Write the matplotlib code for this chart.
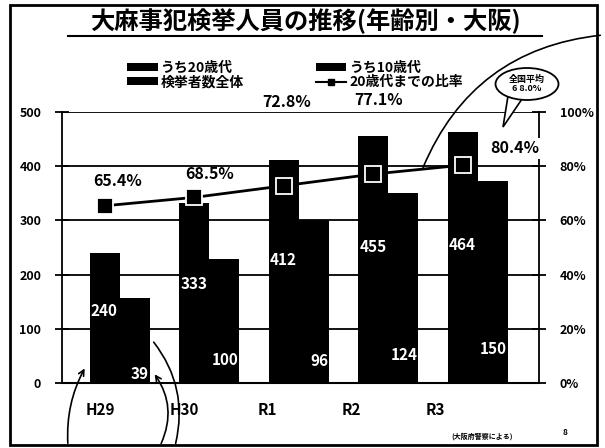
import matplotlib
matplotlib.use("Agg")
import matplotlib.pyplot as plt
import numpy as np
from matplotlib.patches import Rectangle, Ellipse, FancyArrowPatch, Polygon
from matplotlib.lines import Line2D
from matplotlib.ticker import PercentFormatter

plt.rcParams['font.family'] = ['Noto Sans CJK JP', 'DejaVu Sans']

# ---- data ----
years = ["H29", "H30", "R1", "R2", "R3"]
total = [240, 333, 412, 455, 464]          # 検挙者数全体
teens = [39, 100, 96, 124, 150]            # うち10歳代
twenties = [118, 128, 204, 227, 223]       # うち20歳代
ratio = [65.4, 68.5, 72.8, 77.1, 80.4]     # 20歳代までの比率 (%)
national_avg = "6 8.0%"
title = "大麻事犯検挙人員の推移(年齢別・大阪)"
source = "(大阪府警察による)"
page_no = "8"

W, H = 605, 448
fig = plt.figure(figsize=(W / 100, H / 100), dpi=100)
fig.patch.set_facecolor("white")

def fx(px):
    return px / W

def fy(py):
    return 1 - py / H

ax = fig.add_axes([fx(62), fy(383), fx(539) - fx(62), fy(112) - fy(383)])
ax2 = ax.twinx()

x = np.arange(len(years))
bw = 0.335

ax.bar(x, total, width=bw, color="black", label="検挙者数全体", zorder=2)
ax.bar(x + bw, teens, width=bw, color="black", label="うち10歳代", zorder=2)
ax.bar(x + bw, twenties, width=bw, bottom=teens, color="black", label="うち20歳代", zorder=2)

ax.set_xlim(-0.48, 4.85)
ax.set_ylim(0, 500)
ax.set_yticks(range(0, 501, 100))
ax.grid(axis="y", color="black", linewidth=1.3, zorder=0)
ax.set_axisbelow(True)

# value labels inside bars
for xi, t, te in zip(x, total, teens):
    ax.text(xi - bw / 2 + 0.01, t * 0.55, str(t), color="white", fontsize=11,
            fontweight="bold", ha="left", va="center", zorder=5)
    ax.text(xi + bw * 1.5 - 0.01, te * 0.42, str(te), color="white", fontsize=11,
            fontweight="bold", ha="right", va="center", zorder=5)

# ratio line
ax2.plot(x, ratio, color="black", linewidth=2, marker="s", markersize=11,
         markerfacecolor="black", markeredgecolor="white", markeredgewidth=1.3,
         zorder=4)
ax2.set_ylim(0, 100)
ax2.set_yticks(range(0, 101, 20))
ax2.yaxis.set_major_formatter(PercentFormatter(decimals=0))

label_offsets = [(13, 25), (15, 23), (3, 84), (5, 74), (52, 17)]
for i, (xi, r) in enumerate(zip(x, ratio)):
    dx, dy = label_offsets[i]
    kw = {}
    if i == 4:
        kw = dict(bbox=dict(boxstyle="square,pad=0.15", facecolor="white", edgecolor="none"))
    ax2.annotate(f"{r:.1f}%", (xi, r), xytext=(dx, dy), textcoords="offset pixels",
                 ha="center", va="center", fontsize=11.5, fontweight="bold",
                 color="black", clip_on=False, annotation_clip=False, **kw)

# axes styling
for a in (ax, ax2):
    for s in a.spines.values():
        s.set_visible(False)
ax.spines["left"].set_visible(True)
ax.spines["left"].set_linewidth(1.3)
ax2.spines["right"].set_visible(True)
ax2.spines["right"].set_linewidth(1.3)
ax.spines["bottom"].set_visible(True)
ax.spines["bottom"].set_linewidth(1.5)

ax.tick_params(axis="y", direction="inout", length=10, width=1.3, labelsize=9, pad=10)
ax2.tick_params(axis="y", direction="inout", length=10, width=1.3, labelsize=9, pad=10)
for lab in ax.get_yticklabels() + ax2.get_yticklabels():
    lab.set_fontweight("bold")

tick_pos = [xi - 0.05 - 0.065 * xi for xi in x]
ax.set_xticks(tick_pos)
ax.set_xticklabels(years, fontsize=11, fontweight="bold")
ax.tick_params(axis="x", length=0, pad=14)

# legend
h1, l1 = ax.get_legend_handles_labels()
hd = dict(zip(l1, h1))
hd["20歳代までの比率"] = Line2D([], [], color="black", linewidth=1.5, marker="s",
                               markersize=5, markerfacecolor="black")
order = ["うち20歳代", "検挙者数全体", "うち10歳代", "20歳代までの比率"]
fig.legend([hd[k] for k in order], order, ncol=2, loc="center left",
           bbox_to_anchor=(fx(120), fy(75)), frameon=False,
           prop=dict(size=10, weight="bold"), handlelength=2.2, handleheight=0.5,
           handletextpad=0.2, columnspacing=5.2, labelspacing=0.0, borderpad=0)

# title with underline
fig.text(fx(305), fy(21), title, ha="center", va="center", fontsize=17.5, fontweight="bold")
fig.add_artist(Line2D([fx(68), fx(542)], [fy(36), fy(36)], color="black",
                      linewidth=1.5, transform=fig.transFigure))

# source and page number
fig.text(fx(482), fy(436), source, ha="center", va="center", fontsize=5, fontweight="bold")
fig.text(fx(565), fy(432), page_no, ha="center", va="center", fontsize=6, fontweight="bold")

# outer frame
fig.add_artist(Rectangle((fx(10), fy(445)), fx(597) - fx(10), fy(5) - fy(445),
                         fill=False, edgecolor="black", linewidth=2,
                         transform=fig.transFigure))

# speech bubble: national average
fig.add_artist(Polygon([(fx(508), fy(96)), (fx(503), fy(127)), (fx(522), fy(99))],
                       closed=False, fill=True, facecolor="white", edgecolor="black",
                       linewidth=1.2, transform=fig.transFigure, zorder=9))
fig.add_artist(Ellipse((fx(527), fy(84)), fx(63), 32 / H, facecolor="white",
                       edgecolor="black", linewidth=1.3, transform=fig.transFigure, zorder=10))
fig.text(fx(527), fy(84), "全国平均\n" + national_avg, ha="center",
         va="center", fontsize=6.5, fontweight="bold", linespacing=1.0, zorder=11)

# hand-drawn pen lines
def pen(p0, p1, rad, arrow=False):
    fig.add_artist(FancyArrowPatch((fx(p0[0]), fy(p0[1])), (fx(p1[0]), fy(p1[1])),
                                   connectionstyle=f"arc3,rad={rad}",
                                   arrowstyle="->,head_length=4,head_width=2" if arrow else "-",
                                   color="black", linewidth=1.2,
                                   transform=fig.transFigure, zorder=12))

pen((422, 170), (603, 35), -0.3)
pen((68, 446), (86, 366), -0.15, arrow=True)
pen((160, 446), (153, 372), 0.3, arrow=True)
pen((175, 446), (152, 340), 0.25)

fig.savefig("out.png", dpi=100, facecolor="white")
